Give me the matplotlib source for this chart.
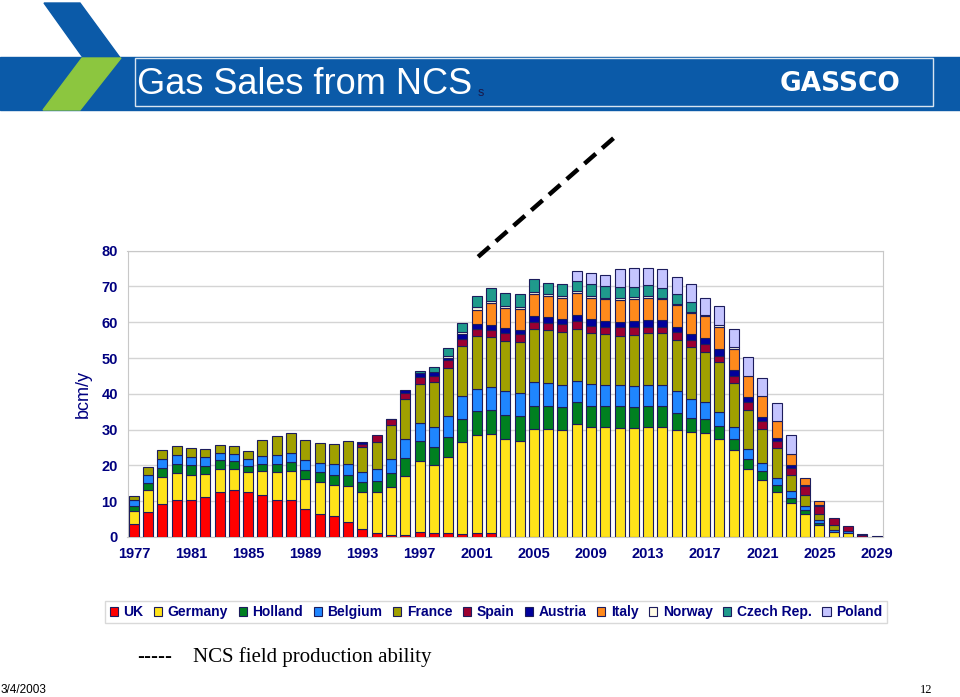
import numpy as np
import matplotlib.pyplot as plt
from matplotlib.patches import Rectangle, Polygon, Patch

years = np.arange(1977, 2030)

# bcm/y per buyer country (1977..2029)
uk = [3.5, 7.0, 9.1, 10.4, 10.3, 11.1, 12.7, 13.1, 12.5, 11.7, 10.4, 10.3, 7.9, 6.5, 5.9, 4.2,
      2.1, 1.2, 0.6, 0.6, 1.4, 1.2, 1.0, 0.7, 1.2, 1.1, 0, 0, 0, 0, 0, 0, 0, 0, 0, 0,
      0, 0, 0, 0, 0, 0, 0, 0, 0, 0, 0, 0, 0, 0, 0, 0, 0]
germany = [3.8, 6.0, 7.7, 7.5, 7.1, 6.5, 6.4, 5.9, 5.7, 6.7, 7.9, 8.1, 8.3, 8.8, 8.7, 10.0,
           10.4, 11.5, 13.4, 16.5, 19.9, 18.9, 21.4, 25.9, 27.3, 27.7, 27.3, 26.9, 30.3, 30.1,
           29.9, 31.6, 30.8, 30.6, 30.5, 30.5, 30.7, 30.7, 29.8, 29.4, 29.1, 27.3, 24.2, 19.0,
           16.0, 12.7, 9.6, 6.4, 3.4, 1.4, 1.1, 0, 0]
holland = [1.5, 2.2, 2.6, 2.6, 2.6, 2.3, 2.3, 2.3, 1.7, 2.1, 2.2, 2.6, 2.6, 2.8, 2.8, 3.2,
           2.8, 3.0, 4.0, 5.0, 5.4, 5.1, 5.6, 6.3, 6.6, 6.7, 6.7, 6.8, 6.3, 6.4, 6.4, 6.2,
           5.9, 6.0, 6.1, 5.9, 5.9, 5.9, 4.9, 3.9, 3.9, 3.7, 3.2, 2.8, 2.5, 1.8, 1.4, 1.1,
           0.6, 0, 0, 0, 0]
belgium = [1.5, 2.0, 2.4, 2.4, 2.4, 2.5, 2.2, 1.9, 1.9, 2.0, 2.3, 2.5, 2.6, 2.7, 2.9, 3.1,
           3.0, 3.2, 3.7, 5.2, 5.1, 5.6, 5.8, 6.4, 6.3, 6.4, 6.7, 6.4, 6.7, 6.4, 6.3, 5.9,
           6.0, 5.8, 5.8, 5.9, 6.0, 6.0, 6.0, 5.3, 4.7, 3.8, 3.4, 2.8, 2.3, 2.1, 1.8, 1.3,
           0.8, 0.5, 0.7, 0, 0]
france = [1.2, 2.3, 2.5, 2.6, 2.4, 2.1, 2.1, 2.1, 2.3, 4.7, 5.3, 5.6, 5.6, 5.6, 5.8, 6.2,
          6.9, 7.7, 9.5, 11.2, 10.9, 12.4, 13.5, 14.0, 14.9, 13.9, 14.2, 14.5, 14.9, 14.9,
          14.7, 14.5, 14.4, 14.2, 13.9, 14.2, 14.4, 14.4, 14.3, 14.4, 14.0, 14.0, 12.3, 11.0,
          9.5, 8.3, 4.4, 2.9, 1.5, 1.4, 0, 0, 0]
spain = [0, 0, 0, 0, 0, 0, 0, 0, 0, 0, 0, 0, 0, 0, 0, 0,
         0.9, 1.8, 1.7, 1.6, 2.1, 1.9, 2.1, 2.0, 1.9, 2.1, 2.1, 2.0, 1.8, 2.1, 2.1, 2.1,
         1.9, 2.0, 2.3, 2.1, 1.8, 1.8, 2.2, 2.0, 2.2, 1.8, 2.0, 2.0, 2.0, 1.9, 2.2, 2.5,
         2.3, 2.0, 1.2, 0.5, 0]
austria = [0, 0, 0, 0, 0, 0, 0, 0, 0, 0, 0, 0, 0, 0, 0, 0,
           0.4, 0, 0.2, 1.0, 0.9, 0.9, 0.7, 1.4, 1.3, 1.3, 1.3, 1.3, 1.7, 1.5, 1.5, 1.7,
           1.8, 1.7, 1.6, 1.8, 1.8, 1.9, 1.4, 1.7, 1.8, 1.9, 1.6, 1.6, 1.2, 1.0, 0.6, 0.3,
           0.4, 0, 0, 0.4, 0.4]
italy = [0, 0, 0, 0, 0, 0, 0, 0, 0, 0, 0, 0, 0, 0, 0, 0,
         0, 0, 0, 0, 0, 0, 0, 0, 3.9, 6.2, 5.7, 5.9, 6.2, 5.9, 6.0, 6.1,
         5.9, 6.1, 6.0, 6.1, 6.1, 5.9, 6.1, 6.0, 6.0, 6.1, 5.9, 5.7, 5.8, 4.6, 3.3, 2.0,
         1.1, 0, 0, 0, 0]
norway = [0, 0, 0, 0, 0, 0, 0, 0, 0, 0, 0, 0, 0, 0, 0, 0,
          0, 0, 0, 0, 0, 0, 0.4, 0.6, 0.9, 0.6, 0.5, 0.5, 0.5, 0.6, 0.5, 0.5,
          0.7, 0.5, 0.7, 0.6, 0.6, 0.2, 0.4, 0.2, 0.2, 0.5, 0.5, 0, 0, 0, 0, 0,
          0, 0, 0, 0, 0]
czech = [0, 0, 0, 0, 0, 0, 0, 0, 0, 0, 0, 0, 0, 0, 0, 0,
         0, 0, 0, 0, 0.6, 1.4, 2.2, 2.6, 3.1, 3.5, 3.6, 3.6, 3.6, 3.2, 3.3, 3.0,
         3.2, 3.2, 3.0, 2.8, 3.1, 2.9, 2.8, 2.9, 0, 0, 0, 0, 0, 0, 0, 0,
         0, 0, 0, 0, 0]
poland = [0, 0, 0, 0, 0, 0, 0, 0, 0, 0, 0, 0, 0, 0, 0, 0,
          0, 0, 0, 0, 0, 0, 0, 0, 0, 0, 0, 0, 0, 0, 0, 2.6,
          3.1, 3.0, 5.0, 5.3, 4.9, 5.2, 4.8, 4.9, 4.8, 5.4, 5.1, 5.3, 5.2, 5.1, 5.2, 0,
          0, 0, 0, 0, 0]

names = ['UK', 'Germany', 'Holland', 'Belgium', 'France', 'Spain', 'Austria',
         'Italy', 'Norway', 'Czech Rep.', 'Poland']
series = [uk, germany, holland, belgium, france, spain, austria, italy, norway, czech, poland]
colors = ['#ff0000', '#ffe31a', '#008020', '#1f86ff', '#a0a000', '#9b0030', '#00009c',
          '#ff8a1c', '#fffbe6', '#1f9a8c', '#c4c4ff']

# dashed "NCS field production ability" line (year, bcm/y)
ncs_x = [2001.1, 2010.6]
ncs_y = [78.3, 111.5]

navy = '#000080'
edge = '#1c1c5c'

fig = plt.figure(figsize=(9.6, 6.97), dpi=100)
W, H = 960, 697


def px(x, y):
    return (x / W, 1 - y / H)


# header banner and logo shapes
fig.add_artist(Rectangle(px(0, 110), 1, 53 / H, transform=fig.transFigure,
                         color='#0b5aa8', zorder=0))
fig.add_artist(Rectangle(px(135, 106), 798 / W, 48 / H, transform=fig.transFigure,
                         facecolor='none', edgecolor='#d8e4f0', lw=1))
fig.add_artist(Polygon([px(44, 3), px(80, 3), px(121, 59), px(84, 59)],
                       transform=fig.transFigure, color='#0b5aa8'))
fig.add_artist(Polygon([px(82, 58), px(121, 58), px(80, 110), px(43, 110)],
                       transform=fig.transFigure, color='#8cc63f'))
fig.text(*px(137, 84), 'Gas Sales from NCS', color='white', fontsize=26,
         family='Liberation Sans', va='center', ha='left')
fig.text(*px(478, 93), 's', color='#1a1a4a', fontsize=9, family='Liberation Sans',
         va='center', ha='left')
fig.text(*px(840, 84), 'GASSCO', color='white', fontsize=19, fontweight='bold',
         family='DejaVu Sans', va='center', ha='center')

ax = fig.add_axes([127.5 / W, 1 - 537 / H, (883 - 127.5) / W, (537 - 250.7) / H])
bottom = np.zeros(len(years))
for name, vals, col in zip(names, series, colors):
    vals = np.array(vals, dtype=float)
    m = vals > 0
    ax.bar(years[m], vals[m], bottom=bottom[m], width=0.7, color=col,
           edgecolor=edge, linewidth=0.8, zorder=3)
    bottom += vals

ax.plot(ncs_x, ncs_y, color='black', lw=3.2, ls=(0, (3.4, 1.9)), clip_on=False, zorder=5)

ax.set_xlim(1976.55, 2029.45)
ax.set_ylim(0, 80)
ax.set_yticks(range(0, 81, 10))
ax.set_xticks(range(1977, 2030, 4))
ax.tick_params(length=0, pad=7, labelsize=10.5, labelcolor=navy)
for lab in ax.get_xticklabels() + ax.get_yticklabels():
    lab.set_fontweight('bold')
    lab.set_family('Liberation Sans')
ax.grid(axis='y', color='#d4d4d4', lw=1, zorder=0)
for s in ax.spines.values():
    s.set_color('#c8c8c8')
ax.set_ylabel('bcm/y', fontsize=13, color=navy, family='Liberation Sans', labelpad=7)

handles = [Patch(facecolor=c, edgecolor=edge, lw=0.8) for c in colors]
leg = fig.legend(handles, names, loc='center', bbox_to_anchor=px(496, 612), ncol=11,
                 frameon=True, fancybox=False, edgecolor='#d0d0d0',
                 prop={'family': 'Liberation Sans', 'weight': 'bold', 'size': 10},
                 handlelength=0.6, handleheight=0.6, handletextpad=0.4,
                 columnspacing=0.75, borderpad=0.3)
for t in leg.get_texts():
    t.set_color(navy)

fig.text(*px(137, 656), '-----', fontsize=15, fontweight='bold', family='Liberation Sans',
         va='center', ha='left')
fig.text(*px(193, 657), 'NCS field production ability', fontsize=15,
         family='Liberation Serif', va='center', ha='left')
fig.text(*px(1, 690), '3/4/2003', fontsize=8.5, family='Liberation Sans',
         va='center', ha='left')
fig.text(*px(932, 690), '12', fontsize=9, family='Liberation Serif',
         va='center', ha='right')

fig.savefig('out.png', dpi=100)
